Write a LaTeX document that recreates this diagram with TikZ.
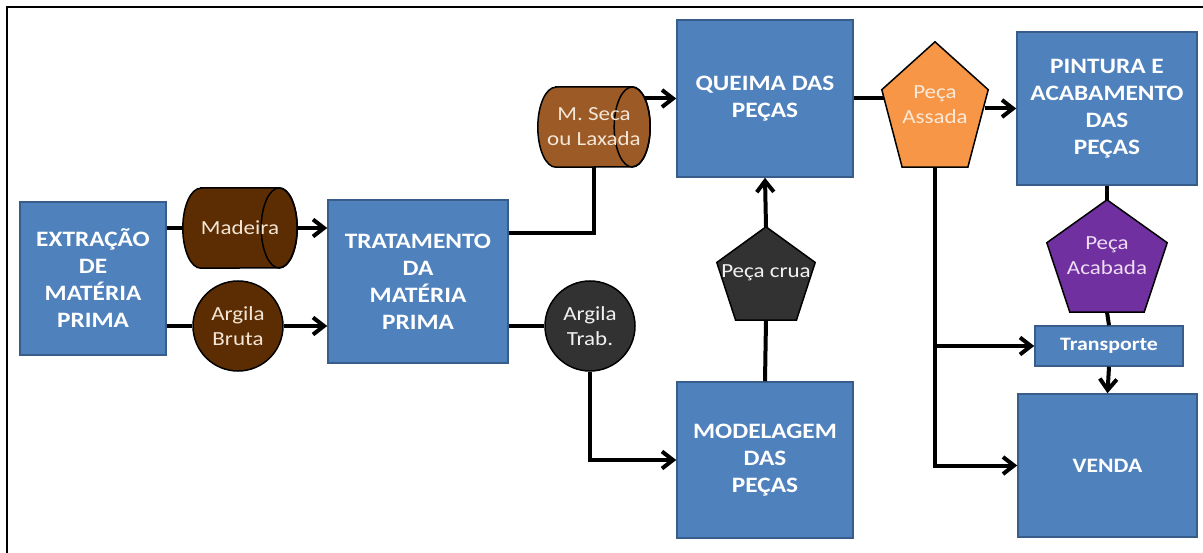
\documentclass[tikz,border=0pt]{standalone}
\usepackage{fontspec}
\newfontfamily\dfont[FakeStretch=1.15]{Carlito}
\usetikzlibrary{arrows.meta,shapes.geometric,calc,backgrounds}
\definecolor{boxblue}{HTML}{4F81BD}
\definecolor{boxedge}{HTML}{385D8A}
\definecolor{brownA}{HTML}{5C2D02}
\definecolor{brownB}{HTML}{9C5B26}
\definecolor{darkgrayA}{HTML}{323232}
\definecolor{orangeA}{HTML}{F79646}
\definecolor{purpleA}{HTML}{7030A0}
\definecolor{txtcream}{HTML}{F3E6D6}
\definecolor{txtwhite}{HTML}{F2F2F2}
\definecolor{txtpeach}{HTML}{FDEADA}
\definecolor{txtlav}{HTML}{EEDDF5}
\tikzset{
  procbox/.style={draw=boxedge, line width=1.5pt, fill=boxblue, text=white,
    font=\dfont\bfseries\fontsize{22}{27}\selectfont, align=center, inner sep=0pt},
  smalltxt/.style={font=\dfont\fontsize{20}{25}\selectfont, align=center, inner sep=0pt},
  cylbox/.style={draw=none, smalltxt, text=txtcream, minimum height=80pt},
  cylbody/.style={insert path={($(#1.north west)+(18pt,0)$) -- ($(#1.north east)+(-18pt,0)$)
    arc[start angle=90, end angle=-90, x radius=18pt, y radius=40pt]
    -- ($(#1.south west)+(18pt,0)$)
    arc[start angle=270, end angle=90, x radius=18pt, y radius=40pt] -- cycle}},
  cylend/.style={insert path={($(#1.east)+(-18pt,0)$) ellipse[x radius=18pt, y radius=40pt]}},
  roundnode/.style={circle, draw=black, line width=1.5pt, fill=#1, smalltxt, minimum size=90pt},
  pentabox/.style={draw=none, smalltxt},
  pentaof/.style={insert path={(#1.north) -- ($(#1.north east)!0.382!(#1.south east)$)
    -- ($(#1.south west)!0.809!(#1.south east)$) -- ($(#1.south west)!0.191!(#1.south east)$)
    -- ($(#1.north west)!0.382!(#1.south west)$) -- cycle}},
  outline/.style={draw=black, line width=1.5pt, line join=miter},
  conn/.style={line width=4pt, draw=black},
  arr/.style={conn, -{Straight Barb[length=11pt,width=17pt]}},
  frameline/.style={line width=2.2pt, draw=black}
}
\begin{document}
\begin{tikzpicture}[x=1pt,y=-1pt]
\useasboundingbox (0,0) rectangle (1203,553);
% blue process boxes
\node[procbox, minimum width=146pt, minimum height=153pt] (ext) at (93,278.5) {EXTRAÇÃO\\DE\\MATÉRIA\\PRIMA};
\node[procbox, minimum width=180pt, minimum height=163pt] (trat) at (418,281.5) {TRATAMENTO\\DA\\MATÉRIA\\PRIMA};
\node[procbox, minimum width=176pt, minimum height=157pt] (queima) at (765,98.5) {QUEIMA DAS\\PEÇAS};
\node[procbox, minimum width=176pt, minimum height=156pt] (model) at (765,460) {MODELAGEM\\DAS\\PEÇAS};
\node[procbox, minimum width=180pt, minimum height=153pt] (pintura) at (1107,108.5) {PINTURA E\\ACABAMENTO\\DAS\\PEÇAS};
\node[procbox, minimum width=148pt, minimum height=40pt, font=\dfont\bfseries\fontsize{19}{23}\selectfont] (transp) at (1109,346) {Transporte};
\node[procbox, minimum width=179pt, minimum height=143pt, font=\dfont\bfseries\fontsize{20.5}{25}\selectfont] (venda) at (1107.5,465.5) {VENDA};
% cylinders (text nodes; outlines on background)
\node[cylbox, minimum width=114pt] (madeira) at (240,228) {Madeira};
\node[cylbox, minimum width=112pt] (mseca) at (594,127) {M. Seca\\ou Laxada};
% circles
\node[roundnode=brownA, text=txtcream] (argb) at (238,326) {Argila\\Bruta};
\node[roundnode=darkgrayA, text=txtwhite] (argt) at (590,326) {Argila\\Trab.};
% pentagons (text nodes; outlines on background)
\node[pentabox, minimum width=106pt, minimum height=125pt, text=txtpeach] (assada) at (935,104.5) {Peça\\Assada};
\node[pentabox, minimum width=98pt, minimum height=93pt, text=txtwhite] (crua) at (766,273.5) {\raisebox{5pt}{Peça crua}};
\node[pentabox, minimum width=120pt, minimum height=112pt, text=txtlav] (acab) at (1107,256) {Peça\\Acabada};
\begin{scope}[on background layer]
  \fill[white] (0,0) rectangle (1203,553);
  \filldraw[fill=brownA, outline, cylbody=madeira];
  \draw[outline, cylend=madeira];
  \filldraw[fill=brownB, outline, cylbody=mseca];
  \draw[outline, cylend=mseca];
  \filldraw[fill=orangeA, outline, pentaof=assada];
  \filldraw[fill=darkgrayA, outline, pentaof=crua];
  \filldraw[fill=purpleA, outline, pentaof=acab];
\end{scope}
% frame
\coordinate (fbl) at (7,553);
\coordinate (ftl) at (7,7);
\coordinate (ftr) at (1203,7);
\draw[frameline] (fbl) -- (ftl) -- (ftr);
% connectors
\coordinate (j1) at (593,233);
\draw[conn] (ext.east |- madeira) -- (madeira.west);
\draw[arr] (madeira.east) -- (trat.west |- madeira);
\draw[conn] (ext.east |- argb) -- (argb.west);
\draw[arr] (argb.east) -- (trat.west |- argb);
\draw[conn] (trat.east |- j1) -| (mseca.south);
\draw[arr] ([xshift=-6pt]mseca.east |- queima) -- (queima.west);
\draw[conn] (trat.east |- argt) -- (argt.west);
\draw[arr] (argt.south) |- (model.west);
\draw[conn] (model.north) -- (crua.south);
\draw[arr] (crua.north) -- (queima.south);
\draw[conn] (queima.east) -- ([xshift=2pt]queima.east -| assada.west);
\draw[arr] ([xshift=-3pt]assada.east |- pintura) -- (pintura.west);
\draw[arr] (assada.south) |- (venda.west);
\draw[arr] (assada.south |- transp) -- (transp.west);
\draw[conn] (pintura.south) -- (acab.north);
\draw[conn] (acab.south) -- (transp.north);
\draw[arr] (transp.south) -- (venda.north);
\end{tikzpicture}
\end{document}
